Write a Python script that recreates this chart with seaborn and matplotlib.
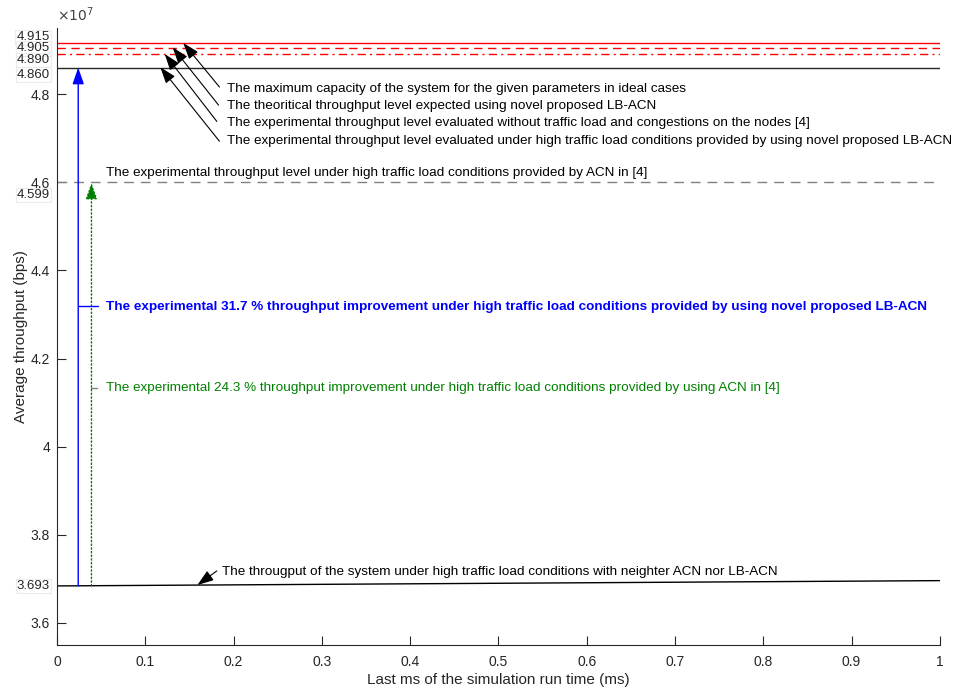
import matplotlib
matplotlib.use("Agg")
import matplotlib.pyplot as plt
import seaborn as sns
import pandas as pd

# ---------------- data (throughput in units of 1e7 bps) ----------------
level_values = [4.915, 4.905, 4.890, 4.860, 4.600]
level_labels = ["4.915", "4.905", "4.890", "4.860", "4.6"]
base_x = [0.0, 1.0]
base_y = [3.684, 3.696]
base_label = "3.693"
acn_label = "4.599"
lb_acn_x = 0.024
acn_x = 0.039
lb_acn_gain = 31.7
acn_gain = 24.3
x_ticks = [0, 0.1, 0.2, 0.3, 0.4, 0.5, 0.6, 0.7, 0.8, 0.9, 1]
y_ticks = [3.6, 3.8, 4.0, 4.2, 4.4, 4.6, 4.8]
y_tick_labels = ["3.6", "3.8", "4", "4.2", "4.4", "4.6", "4.8"]

sns.set_style("white")
plt.rcParams["font.family"] = ["Liberation Sans", "DejaVu Sans"]

FS = 9.7
fig = plt.figure(figsize=(9.57, 6.93), dpi=100)
ax = fig.add_axes([0.0596, 0.0693, 0.9224, 0.8903])

styles = [("red", "-"), ("red", (0, (6, 4))), ("red", (0, (6, 3, 1.5, 3))),
          ("#262626", "-"), ("#808080", (0, (7, 5)))]
for v, (c, ls) in zip(level_values, styles):
    df = pd.DataFrame({"x": [0, 1], "y": [v, v]})
    sns.lineplot(data=df, x="x", y="y", color=c, linestyle=ls, lw=1.0, ax=ax)

dfb = pd.DataFrame({"x": base_x, "y": base_y})
sns.lineplot(data=dfb, x="x", y="y", color="black", lw=1.0, ax=ax)

ax.set_xlim(0, 1)
ax.set_ylim(3.55, 4.95)
ax.set_xticks(x_ticks)
ax.set_xticklabels([str(t) for t in x_ticks], fontsize=10)
ax.set_yticks(y_ticks)
ax.set_yticklabels(y_tick_labels, fontsize=10)
ax.tick_params(bottom=True, left=True, direction="in", length=6.5, width=0.8,
               colors="#262626", labelcolor="#262626")
ax.tick_params(axis="x", pad=7)
ax.tick_params(axis="y", pad=5)
for s in ["top", "right"]:
    ax.spines[s].set_visible(False)
for s in ["left", "bottom"]:
    ax.spines[s].set_color("#262626")
    ax.spines[s].set_linewidth(0.8)
ax.set_xlabel("Last ms of the simulation run time (ms)", fontsize=11, color="#262626", labelpad=3)
ax.set_ylabel("Average throughput (bps)", fontsize=11, color="#262626", labelpad=2)
ax.text(0.0, 1.006, r"$\times 10^{7}$", transform=ax.transAxes, fontsize=10,
        color="#404040", va="bottom", ha="left")

# custom level labels (faint boxes, transparent)
box = dict(boxstyle="square,pad=0.1", fc="none", ec="#ececec", lw=0.8)
ytxt = [4.929, 4.904, 4.877, 4.844]
for lab, yy in zip(level_labels[:4], ytxt):
    ax.text(-0.008, yy, lab, fontsize=9.5, ha="right", va="center", color="#262626",
            bbox=box, clip_on=False)
ax.text(-0.008, 4.571, acn_label, fontsize=9.5, ha="right", va="center", color="#262626",
        bbox=box, clip_on=False)
ax.text(-0.008, 3.684, base_label, fontsize=9.5, ha="right", va="center", color="#262626",
        bbox=box, clip_on=False)

# improvement arrows
ax.annotate("", xy=(lb_acn_x, level_values[3]), xytext=(lb_acn_x, base_y[0]),
            arrowprops=dict(arrowstyle="-|>,head_length=1.0,head_width=0.35", color="blue", lw=1.0,
                            shrinkA=0, shrinkB=0))
ax.annotate("", xy=(acn_x, 4.599), xytext=(acn_x, base_y[0]),
            arrowprops=dict(arrowstyle="-|>,head_length=1.0,head_width=0.35", color="green",
                            lw=1.0, linestyle=":", shrinkA=0, shrinkB=0))
ax.plot([lb_acn_x, lb_acn_x + 0.022], [4.32, 4.32], color="blue", lw=1.0)
ax.plot([acn_x, acn_x + 0.006], [4.134, 4.134], color="#808080", lw=1.0)
ax.text(0.055, 4.318, f"The experimental {lb_acn_gain} % throughput improvement under high traffic load conditions provided by using novel proposed LB-ACN",
        fontsize=FS, fontweight="bold", color="blue", va="center")
ax.text(0.055, 4.134, f"The experimental {acn_gain} % throughput improvement under high traffic load conditions provided by using ACN in [4]",
        fontsize=FS, color="green", va="center")

# level annotations
ann = [
    ("The maximum capacity of the system for the given parameters in ideal cases", (0.143, 4.916), (0.184, 4.816), 4.812),
    ("The theoritical throughput level expected using novel proposed LB-ACN", (0.131, 4.906), (0.183, 4.775), 4.774),
    ("The experimental throughput level evaluated without traffic load and congestions on the nodes [4]", (0.122, 4.891), (0.181, 4.738), 4.735),
    ("The experimental throughput level evaluated under high traffic load conditions provided by using novel proposed LB-ACN", (0.117, 4.861), (0.184, 4.693), 4.693),
]
for txt, head, tail, ty in ann:
    ax.annotate("", xy=head, xytext=tail,
                arrowprops=dict(arrowstyle="-|>,head_length=1.0,head_width=0.35", color="black", lw=0.8,
                                shrinkA=0, shrinkB=0))
    ax.text(0.192, ty, txt, fontsize=FS, color="black", va="center", clip_on=False)

ax.text(0.056, 4.621, "The experimental throughput level under high traffic load conditions provided by ACN in [4]",
        fontsize=FS, color="black", va="center")
ax.annotate("", xy=(0.159, 3.686), xytext=(0.181, 3.718),
            arrowprops=dict(arrowstyle="-|>,head_length=1.0,head_width=0.35", color="black", lw=0.8,
                            shrinkA=0, shrinkB=0))
ax.text(0.187, 3.716, "The througput of the system under high traffic load conditions with neighter ACN nor LB-ACN",
        fontsize=FS, color="black", va="center")

fig.savefig("out.png", dpi=100)
